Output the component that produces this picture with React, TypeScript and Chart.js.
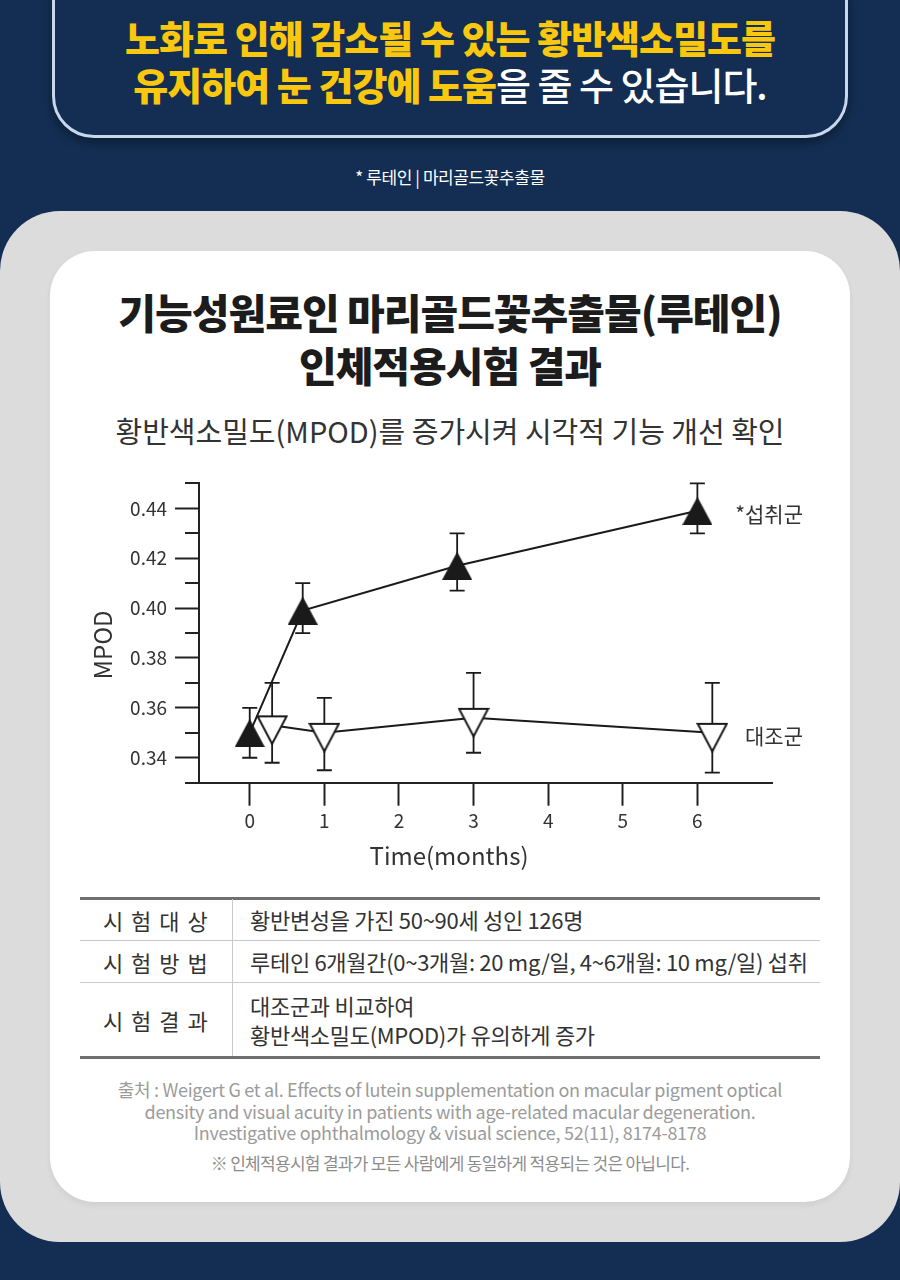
import React, { useEffect, useRef } from 'react';
import { Chart, registerables } from 'chart.js';

Chart.register(...registerables);

const FONT = '"Noto Sans CJK KR", "Noto Sans", sans-serif';

// ---- data ----
const treatMonths = [0, 0.71, 2.78, 6.0];
const treatMPOD = [0.35, 0.399, 0.417, 0.439];
const treatLow = [0.34, 0.39, 0.407, 0.43];
const treatHigh = [0.36, 0.41, 0.43, 0.45];

const ctrlMonths = [0.3, 1.0, 3.0, 6.2];
const ctrlMPOD = [0.353, 0.35, 0.356, 0.35];
const ctrlLow = [0.338, 0.335, 0.342, 0.334];
const ctrlHigh = [0.37, 0.364, 0.374, 0.37];

const xTickValues = [0, 1, 2, 3, 4, 5, 6];
const yMajorTicks = [0.34, 0.36, 0.38, 0.4, 0.42, 0.44];
const yMinorTicks = [0.33, 0.35, 0.37, 0.39, 0.41, 0.43, 0.45];
const seriesNames = ['*섭취군', '대조군'];
const xTitle = 'Time(months)';
const yTitle = 'MPOD';

const tableRows = [
  { label: '시 험 대 상', lines: ['황반변성을 가진 50~90세 성인 126명'] },
  { label: '시 험 방 법', lines: ['루테인 6개월간(0~3개월: 20 mg/일, 4~6개월: 10 mg/일) 섭취'] },
  { label: '시 험 결 과', lines: ['대조군과 비교하여', '황반색소밀도(MPOD)가 유의하게 증가'] },
];

const INK = '#1a1a1a';

function makeUpTriangle() {
  const c = document.createElement('canvas');
  c.width = 30;
  c.height = 28;
  const g = c.getContext('2d')!;
  g.fillStyle = INK;
  g.beginPath();
  g.moveTo(15, 0);
  g.lineTo(30, 28);
  g.lineTo(0, 28);
  g.closePath();
  g.fill();
  return c;
}

function makeDownTriangle() {
  const c = document.createElement('canvas');
  c.width = 32;
  c.height = 40;
  const g = c.getContext('2d')!;
  g.fillStyle = '#ffffff';
  g.strokeStyle = INK;
  g.lineWidth = 2;
  g.lineJoin = 'miter';
  g.beginPath();
  g.moveTo(1.5, 11);
  g.lineTo(30.5, 11);
  g.lineTo(16, 38.5);
  g.closePath();
  g.fill();
  g.stroke();
  return c;
}

const errorBarPlugin = {
  id: 'errorBars',
  beforeDatasetsDraw(chart: any) {
    const { ctx, scales } = chart;
    const x = scales.x;
    const y = scales.y;
    ctx.save();
    ctx.strokeStyle = INK;
    ctx.lineWidth = 1.8;
    chart.data.datasets.forEach((ds: any) => {
      ds.data.forEach((p: any, j: number) => {
        const px = x.getPixelForValue(p.x);
        const top = y.getPixelForValue(ds.errHigh[j]);
        const bot = y.getPixelForValue(ds.errLow[j]);
        ctx.beginPath();
        ctx.moveTo(px, top);
        ctx.lineTo(px, bot);
        ctx.moveTo(px - 7.5, top);
        ctx.lineTo(px + 7.5, top);
        ctx.moveTo(px - 7.5, bot);
        ctx.lineTo(px + 7.5, bot);
        ctx.stroke();
      });
    });
    ctx.restore();
  },
};

const decorPlugin = {
  id: 'decor',
  afterDraw(chart: any) {
    const { ctx, chartArea, scales } = chart;
    const y = scales.y;
    ctx.save();
    // minor y ticks
    ctx.strokeStyle = '#222';
    ctx.lineWidth = 2;
    ctx.beginPath();
    yMinorTicks.forEach((v) => {
      const py = Math.round(y.getPixelForValue(v));
      ctx.moveTo(chartArea.left - 14, py);
      ctx.lineTo(chartArea.left, py);
    });
    ctx.stroke();

    ctx.fillStyle = '#333';
    // y title
    ctx.font = `24px ${FONT}`;
    ctx.textAlign = 'center';
    ctx.textBaseline = 'middle';
    ctx.save();
    ctx.translate(chartArea.left - 96, (chartArea.top + chartArea.bottom) / 2 + 12);
    ctx.rotate(-Math.PI / 2);
    ctx.fillText(yTitle, 0, 0);
    ctx.restore();
    // x title
    ctx.font = `24px ${FONT}`;
    ctx.fillText(xTitle, chartArea.left + 250, chartArea.bottom + 73);

    // series labels
    ctx.font = `21px ${FONT}`;
    ctx.textAlign = 'right';
    const ds = chart.data.datasets;
    ds.forEach((d: any, i: number) => {
      const last = d.data[d.data.length - 1];
      ctx.fillText(seriesNames[i], chartArea.right + 31, y.getPixelForValue(last.y) + 3);
    });
    ctx.restore();
  },
};

function MpodChart() {
  const ref = useRef<HTMLCanvasElement | null>(null);
  useEffect(() => {
    if (!ref.current) return;
    const up = makeUpTriangle();
    const down = makeDownTriangle();
    const chart = new Chart(ref.current, {
      type: 'line',
      data: {
        datasets: [
          {
            label: seriesNames[0],
            data: treatMonths.map((m, i) => ({ x: m, y: treatMPOD[i] })),
            errLow: treatLow,
            errHigh: treatHigh,
            borderColor: INK,
            borderWidth: 2,
            pointStyle: up,
            pointRadius: 15,
            pointHoverRadius: 15,
            fill: false,
            tension: 0,
            clip: false,
          } as any,
          {
            label: seriesNames[1],
            data: ctrlMonths.map((m, i) => ({ x: m, y: ctrlMPOD[i] })),
            errLow: ctrlLow,
            errHigh: ctrlHigh,
            borderColor: INK,
            borderWidth: 2,
            pointStyle: down,
            pointRadius: 15,
            pointHoverRadius: 15,
            fill: false,
            tension: 0,
            clip: false,
          } as any,
        ],
      },
      options: {
        responsive: false,
        animation: false,
        devicePixelRatio: 1,
        layout: { padding: { top: 23.4, right: 128, bottom: 37.3, left: 0 } },
        plugins: { legend: { display: false }, tooltip: { enabled: false } },
        events: [],
        scales: {
          x: {
            type: 'linear',
            min: -0.68,
            max: 7.0,
            afterBuildTicks: (s: any) => {
              s.ticks = xTickValues.map((v) => ({ value: v }));
            },
            afterFit: (s: any) => {
              s.height = 60;
            },
            grid: {
              drawOnChartArea: false,
              drawTicks: true,
              tickLength: 23,
              tickWidth: 2,
              tickColor: '#222',
            },
            border: { display: true, color: '#222', width: 2 },
            ticks: {
              color: '#333',
              padding: 4,
              font: { family: FONT, size: 19 },
              callback: (v: any) => String(v),
            },
          },
          y: {
            type: 'linear',
            min: 0.33,
            max: 0.45,
            afterBuildTicks: (s: any) => {
              s.ticks = yMajorTicks.map((v) => ({ value: v }));
            },
            afterFit: (s: any) => {
              s.width = 199;
            },
            grid: {
              drawOnChartArea: false,
              drawTicks: true,
              tickLength: 24,
              tickWidth: 2,
              tickColor: '#222',
            },
            border: { display: true, color: '#222', width: 2 },
            ticks: {
              color: '#333',
              padding: 8,
              font: { family: FONT, size: 19 },
              callback: (v: any) => Number(v).toFixed(2),
            },
          },
        },
      } as any,
      plugins: [errorBarPlugin, decorPlugin],
    });
    return () => chart.destroy();
  }, []);
  return (
    <canvas
      ref={ref}
      width={900}
      height={420}
      style={{ position: 'absolute', left: 0, top: 460, width: 900, height: 420, display: 'block' }}
    />
  );
}

export default function App() {
  useEffect(() => {
    document.body.style.margin = '0';
  }, []);
  const navy = '#132e52';
  const yellow = '#f9c80e';
  const abs = (o: any) => ({ position: 'absolute', ...o } as React.CSSProperties);
  return (
    <div
      style={{
        position: 'relative',
        width: 900,
        height: 1280,
        background: navy,
        overflow: 'hidden',
        fontFamily: FONT,
      }}
    >
      {/* banner */}
      <div
        style={abs({
          left: 52,
          top: -40,
          width: 796,
          height: 178,
          boxSizing: 'border-box',
          border: '3px solid #c6d7ee',
          borderRadius: 42,
          boxShadow: '0 5px 10px rgba(0,0,0,0.35)',
        })}
      />
      <div
        style={abs({
          left: 0,
          top: 13,
          width: 900,
          textAlign: 'center',
          fontSize: 38,
          lineHeight: '47px',
          fontWeight: 900,
          letterSpacing: '-1px',
          color: yellow,
        })}
      >
        <div>노화로 인해 감소될 수 있는 황반색소밀도를</div>
        <div>
          유지하여 눈 건강에 도움
          <span style={{ color: '#ffffff', fontWeight: 500 }}>을 줄 수 있습니다.</span>
        </div>
      </div>
      <div
        style={abs({
          left: 0,
          top: 166,
          width: 900,
          textAlign: 'center',
          fontSize: 17,
          lineHeight: '22px',
          color: '#ffffff',
          letterSpacing: '-0.4px',
        })}
      >
        * 루테인 | 마리골드꽃추출물
      </div>

      {/* gray panel */}
      <div style={abs({ left: 0, top: 211, width: 900, height: 1031, borderRadius: 60, background: '#dcdcdc' })} />
      {/* white card */}
      <div
        style={abs({
          left: 50,
          top: 251,
          width: 800,
          height: 951,
          borderRadius: 45,
          background: '#ffffff',
          boxShadow: '0 3px 6px rgba(0,0,0,0.06)',
        })}
      />

      {/* title */}
      <div
        style={abs({
          left: 0,
          top: 284.5,
          width: 900,
          textAlign: 'center',
          fontSize: 41,
          lineHeight: '53px',
          fontWeight: 900,
          letterSpacing: '-1px',
          color: '#1c1c1c',
        })}
      >
        <div>기능성원료인 마리골드꽃추출물(루테인)</div>
        <div>인체적용시험 결과</div>
      </div>
      <div
        style={abs({
          left: 0,
          top: 412,
          width: 900,
          textAlign: 'center',
          fontSize: 29,
          lineHeight: '36px',
          color: '#333',
          letterSpacing: '0px',
        })}
      >
        황반색소밀도(MPOD)를 증가시켜 시각적 기능 개선 확인
      </div>

      <MpodChart />

      {/* table */}
      <div style={abs({ left: 80, top: 896.5, width: 740, height: 3, background: '#6f6f6f' })} />
      <div style={abs({ left: 80, top: 940, width: 740, height: 1, background: '#c9c9c9' })} />
      <div style={abs({ left: 80, top: 982, width: 740, height: 1, background: '#c9c9c9' })} />
      <div style={abs({ left: 80, top: 1056, width: 740, height: 3, background: '#6f6f6f' })} />
      <div style={abs({ left: 232, top: 899, width: 1, height: 157, background: '#c9c9c9' })} />
      {tableRows.map((r, i) => {
        const tops = [899, 941, 983];
        const heights = [41, 41, 73];
        return (
          <React.Fragment key={i}>
            <div
              style={abs({
                left: 80,
                top: tops[i],
                width: 152,
                height: heights[i],
                display: 'flex',
                alignItems: 'center',
                justifyContent: 'center',
                fontSize: 22,
                color: '#333',
                letterSpacing: '1.5px',
              })}
            >
              {r.label}
            </div>
            <div
              style={abs({
                left: 250,
                top: tops[i],
                width: 570,
                height: heights[i],
                display: 'flex',
                flexDirection: 'column',
                justifyContent: 'center',
                fontSize: 22,
                lineHeight: '29px',
                color: '#333',
                letterSpacing: '-0.3px',
                whiteSpace: 'nowrap',
              })}
            >
              {r.lines.map((l, k) => (
                <div key={k}>{l}</div>
              ))}
            </div>
          </React.Fragment>
        );
      })}

      {/* footer */}
      <div
        style={abs({
          left: 0,
          top: 1079,
          width: 900,
          textAlign: 'center',
          fontSize: 18,
          lineHeight: '21.5px',
          color: '#9b9b9b',
          letterSpacing: '-0.3px',
        })}
      >
        <div>출처 : Weigert G et al. Effects of lutein supplementation on macular pigment optical</div>
        <div>density and visual acuity in patients with age-related macular degeneration.</div>
        <div>Investigative ophthalmology &amp; visual science, 52(11), 8174-8178</div>
      </div>
      <div
        style={abs({
          left: 0,
          top: 1152,
          width: 900,
          textAlign: 'center',
          fontSize: 17,
          lineHeight: '22px',
          color: '#8c8c8c',
          letterSpacing: '-0.7px',
        })}
      >
        ※ 인체적용시험 결과가 모든 사람에게 동일하게 적용되는 것은 아닙니다.
      </div>
    </div>
  );
}
